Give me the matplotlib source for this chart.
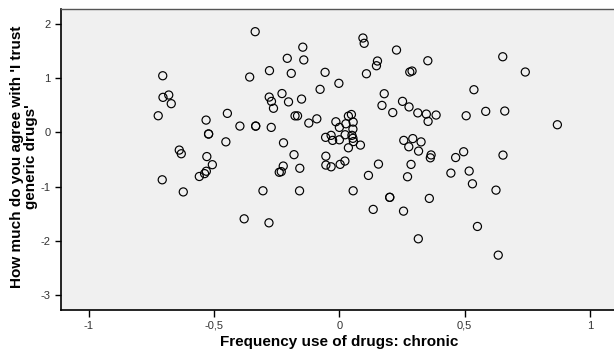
import matplotlib
matplotlib.use("Agg")
import matplotlib.pyplot as plt
from matplotlib.ticker import FuncFormatter

# Frequency use of drugs: chronic (x)  vs  trust in generic drugs (y)
x_vals = [
    -0.705, -0.704, -0.681, -0.671, -0.723, -0.639, -0.631, -0.707, -0.623, -0.559,
    -0.532, -0.447, -0.522, -0.522, -0.397, -0.334, -0.334, -0.272, -0.453, -0.529,
    -0.507, -0.531, -0.538,
    -0.336, -0.146, -0.208, -0.142, -0.279, -0.192, -0.358, -0.229, -0.280, -0.271,
    -0.263, -0.203, -0.151, -0.177, -0.167, -0.223, -0.181, -0.224, -0.240, -0.232,
    -0.158, -0.305, -0.159, -0.380, -0.281,
    0.094, 0.099, 0.228, 0.152, 0.148, 0.353, 0.281, 0.290, -0.057, 0.108,
    -0.002, -0.077, 0.179, 0.170, 0.213, 0.252, 0.278, 0.313, 0.347, 0.386,
    0.354, -0.090, -0.122,
    -0.014, 0.000, 0.026, 0.036, 0.048, 0.055, 0.054, -0.055, -0.033, -0.027,
    0.000, 0.023, 0.050, 0.054, 0.056, 0.036, 0.084,
    0.257, 0.293, 0.277, 0.326, 0.316, 0.366, 0.363,
    -0.054, -0.054, -0.033, 0.003, 0.022, 0.055, 0.116, 0.156, 0.201, 0.201,
    0.135, 0.256, 0.315, 0.286, 0.272, 0.359,
    0.652, 0.742, 0.537, 0.506, 0.584, 0.660, 0.870, 0.496, 0.464, 0.653,
    0.445, 0.518, 0.531, 0.625, 0.551, 0.634,
]
y_vals = [
    1.046, 0.647, 0.690, 0.530, 0.307, -0.327, -0.395, -0.876, -1.100, -0.815,
    0.227, 0.351, -0.030, -0.030, 0.116, 0.116, 0.116, 0.092, -0.175, -0.447,
    -0.597, -0.718, -0.762,
    1.860, 1.574, 1.368, 1.338, 1.140, 1.090, 1.022, 0.717, 0.652, 0.572,
    0.445, 0.563, 0.615, 0.305, 0.305, -0.193, -0.412, -0.622, -0.737, -0.725,
    -0.663, -1.079, -1.080, -1.597, -1.671,
    1.743, 1.645, 1.521, 1.318, 1.231, 1.323, 1.115, 1.133, 1.109, 1.083,
    0.906, 0.795, 0.714, 0.498, 0.366, 0.573, 0.470, 0.360, 0.338, 0.320,
    0.203, 0.250, 0.172,
    0.196, 0.092, 0.159, 0.300, 0.330, 0.190, 0.060, -0.092, -0.055, -0.148,
    -0.137, -0.044, -0.055, -0.110, -0.170, -0.285, -0.235,
    -0.148, -0.115, -0.266, -0.176, -0.346, -0.417, -0.470,
    -0.440, -0.604, -0.636, -0.591, -0.530, -1.079, -0.795, -0.586, -1.200, -1.200,
    -1.423, -1.455, -1.966, -0.592, -0.820, -1.220,
    1.397, 1.115, 0.788, 0.307, 0.388, 0.394, 0.141, -0.358, -0.465, -0.420,
    -0.752, -0.715, -0.950, -1.067, -1.738, -2.268,
]

x_ticks = [-1, -0.5, 0, 0.5, 1]
y_ticks = [2, 1, 0, -1, -2, -3]
x_label = "Frequency use of drugs: chronic"
y_label = "How much do you agree with 'I trust\ngeneric drugs'"

plt.rcParams['font.family'] = ['Liberation Sans', 'DejaVu Sans']

W, H = 614, 363
fig = plt.figure(figsize=(W / 100, H / 100), dpi=100)
fig.patch.set_facecolor('white')
left, right, top, bottom = 60.5, 614, 9, 309.5
ax = fig.add_axes([left / W, 1 - bottom / H, (right - left) / W, (bottom - top) / H])
ax.set_facecolor('#f0f0f0')

ax.scatter(x_vals, y_vals, s=34, facecolors='none', edgecolors='black', linewidths=0.85, zorder=3)

ax.set_xlim(-1.113, 1.096)
ax.set_ylim(-3.272, 2.279)
ax.set_xticks(x_ticks)
ax.set_yticks(y_ticks)

def fmt(v, pos):
    if abs(v - round(v)) < 1e-9:
        return f"{int(round(v))}"
    return f"{v:g}".replace('.', ',')

ax.xaxis.set_major_formatter(FuncFormatter(fmt))
ax.yaxis.set_major_formatter(FuncFormatter(fmt))

ax.tick_params(axis='both', direction='out', length=5, width=1, color='black',
               labelsize=8, labelcolor='#333333', pad=3)
ax.tick_params(axis='y', length=4)

for side in ['left', 'bottom']:
    ax.spines[side].set_color('black')
    ax.spines[side].set_linewidth(1.2)
ax.spines['top'].set_color('#555555')
ax.spines['top'].set_linewidth(1.0)
ax.spines['right'].set_visible(False)

fig.text(339 / W, 1 - 342 / H, x_label, fontsize=11, fontweight='bold',
         ha='center', va='center')
fig.text(24 / W, 1 - 157 / H, y_label, fontsize=11, fontweight='bold',
         ha='center', va='center', rotation=90, linespacing=1.0, multialignment='center')

fig.savefig('out.png', dpi=100, facecolor='white')
